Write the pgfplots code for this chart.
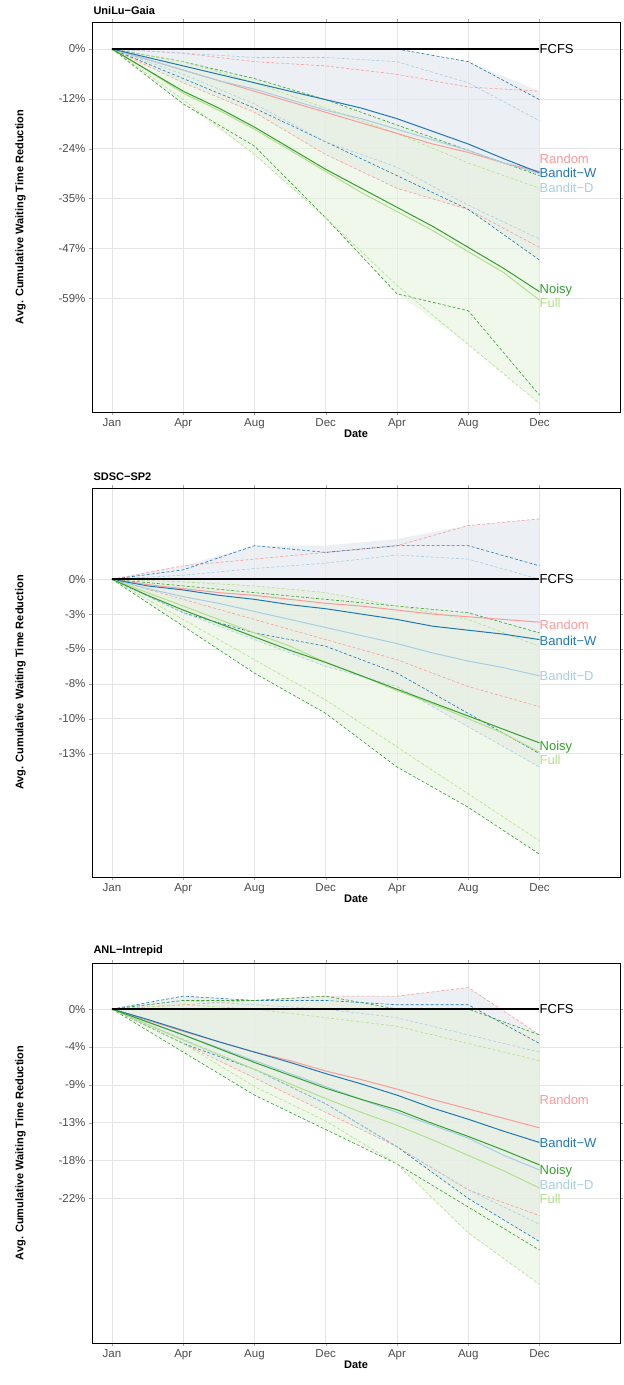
\documentclass[border=0pt]{standalone}
\usepackage{pgfplots}
\pgfplotsset{compat=1.18}
\usepackage{pgfplotstable}
\usepgfplotslibrary{fillbetween}
\usepackage{fontspec}
\setmainfont{Liberation Sans}
\definecolor{cR}{HTML}{FB9A99}
\definecolor{cW}{HTML}{1F78B4}
\definecolor{cD}{HTML}{A6CEE3}
\definecolor{cN}{HTML}{33A02C}
\definecolor{cF}{HTML}{B2DF8A}
\definecolor{fG}{HTML}{E4E8EE}
\definecolor{fN}{HTML}{E6F2DE}
\pgfplotstableread{
x R W D N F
0 0 0 0 0 0
0.5 -2.5 -2 -2.5 -5 -5
1 -5 -4 -5 -10 -10.5
1.5 -7.5 -6 -7.5 -14 -14.5
2 -10 -8 -9.5 -18.5 -19
2.5 -12.5 -10 -12 -23.5 -24
3 -15 -12 -14.5 -28.5 -29
3.5 -17.5 -14 -16.5 -33 -34
4 -20 -16.5 -19 -37.5 -38.5
4.5 -22.5 -19.5 -21.5 -42 -43
5 -24.5 -22.5 -24 -47 -48
5.5 -27 -26 -27 -52 -53
6 -29 -29.3 -29.5 -57.5 -59.5
}\mA
\pgfplotstableread{
x Ru Rl Wu Wl Du Dl Nu Nl Fu Fl Gu Gl Hu Hl
0 0 0 0 0 0 0 0 0 0 0 0 0 0 0
1 -1 -8 0 -7 -1 -6 -3 -13 -3 -12 0 -8 -3 -13
2 -3 -15 0 -14 -2 -13 -7 -23 -8 -25 0 -15 -7 -25
3 -4 -25 0 -22 -2 -22 -12 -40 -14 -40 0 -25 -12 -40
4 -6 -33 0 -30 -3 -28 -18 -58 -20 -56 0 -33 -18 -58
5 -9 -38 -3 -38 -8 -37 -24 -62 -27 -70 -3 -38 -24 -70
6 -10 -47 -12 -50 -17 -45 -30 -82 -33 -84 -10 -50 -30 -84
}\dA
\pgfplotstableread{
x R W D N F
0 0 0 0 0 0
0.5 -.4 -.5 -.7 -1.2 -1
1 -.7 -.8 -1.3 -2.3 -2
1.5 -1 -1.2 -1.8 -3.3 -3
2 -1.2 -1.5 -2.4 -4.3 -4
2.5 -1.5 -1.9 -3 -5.3 -5
3 -1.8 -2.2 -3.6 -6.2 -6.2
3.5 -2 -2.6 -4.2 -7.2 -7.2
4 -2.3 -3 -4.8 -8.2 -8.3
4.5 -2.6 -3.5 -5.5 -9.2 -9.3
5 -2.8 -3.8 -6.1 -10.2 -10.4
5.5 -3 -4.1 -6.6 -11.2 -11.5
6 -3.2 -4.5 -7.2 -12.2 -12.9
}\mB
\pgfplotstableread{
x Ru Rl Wu Wl Du Dl Nu Nl Fu Fl Gu Gl Hu Hl
0 0 0 0 0 0 0 0 0 0 0 0 0 0 0
1 1 -1.5 .7 -2.5 .3 -2.5 -.5 -3.5 -.2 -3 1 -2.5 0 -3.5
2 1.5 -3 2.5 -4 .8 -4.5 -1 -7 -.5 -6 2.5 -4.5 -.5 -7
3 2 -4.5 2 -5 1.2 -6.5 -1.5 -10 -1 -9 2.5 -6.5 -1 -10
4 2.5 -6 2.5 -7 1.8 -8 -2 -14 -2 -12.5 3 -8 -2 -14
5 4 -8 2.5 -10 1.5 -11 -2.5 -17 -3 -16 4 -11 -2.5 -17
6 4.5 -9.5 1 -13 0 -14 -4 -20.5 -5 -19.5 4.5 -14 -4 -20.5
}\dB
\pgfplotstableread{
x R W D N F
0 0 0 0 0 0
0.5 -1.3 -1.2 -1.5 -1.5 -1.8
1 -2.6 -2.5 -3 -3 -3.6
1.5 -3.8 -3.8 -4.5 -4.6 -5.3
2 -5 -5 -6 -6.2 -7
2.5 -6 -6.2 -7.5 -7.7 -8.7
3 -7.2 -7.5 -9 -9.2 -10.4
3.5 -8.2 -8.7 -10.5 -10.5 -12
4 -9.3 -10 -12 -11.7 -13.5
4.5 -10.5 -11.5 -13.5 -13.3 -15.2
5 -11.6 -12.8 -15 -14.8 -17
5.5 -12.7 -14.2 -17 -16.4 -18.8
6 -13.8 -15.5 -18.7 -18.1 -20.8
}\mC
\pgfplotstableread{
x Ru Rl Wu Wl Du Dl Nu Nl Fu Fl Gu Gl Hu Hl
0 0 0 0 0 0 0 0 0 0 0 0 0 0 0
1 .5 -4 1.5 -4 1 -3.5 1 -5 .5 -4 1.5 -4 1 -5
2 1 -8 1 -7 .5 -7 1 -10 0 -9 1 -8 1 -10
3 1.5 -12 1 -11 0 -11 1.5 -14 -1 -13 1.5 -12 1.5 -14
4 1.5 -16 .5 -16 -1 -16 0 -18 -2 -18 1.5 -16 0 -18
5 2.5 -21 .5 -22 -3 -21 0 -23 -4 -26 2.5 -22 0 -26
6 -3 -24 -4 -27 -5 -25 -3 -28 -6 -32 -3 -27 -3 -32
}\dC
\tikzset{
 dsh/.style={dash pattern=on 3pt off 2pt, line width=0.6pt},
 lab/.style={anchor=west, inner sep=0pt, font=\fontsize{13}{15}\selectfont},
}
\pgfplotsset{
 pan/.style={scale only axis, width=528pt, clip=false,
  xmin=-0.28, xmax=7.13, xtick={0,...,6},
  xticklabels={Jan,Apr,Aug,Dec,Apr,Aug,Dec},
  grid=major, grid style={gray!20, line width=0.6pt},
  axis line style={black, line width=0.5pt},
  tick style={gray!70}, tick align=outside, major tick length=3pt,
  ticklabel style={font=\fontsize{11.5}{13}\selectfont, text=black!70},
  xlabel={\textbf{Date}}, xlabel style={font=\fontsize{11}{13}\selectfont, yshift=6pt},
  ylabel={\textbf{Avg. Cumulative Waiting Time Reduction}},
  ylabel style={font=\fontsize{11}{13}\selectfont, yshift=26pt},
  title style={font=\bfseries\fontsize{11}{13}\selectfont, anchor=south west, at={(0,1)}, xshift=-2pt, yshift=-2pt},
  every axis plot/.append style={line width=1pt},
 },
}
\newcommand\panel[2]{%
 \addplot[draw=none, name path=gu] table[y=Gu]{#2};
 \addplot[draw=none, name path=gl] table[y=Gl]{#2};
 \addplot[fG, opacity=0.7] fill between[of=gu and gl];
 \addplot[draw=none, name path=hu] table[y=Hu]{#2};
 \addplot[draw=none, name path=hl] table[y=Hl]{#2};
 \addplot[fN, opacity=0.6] fill between[of=hu and hl];
 \addplot[cR,dsh] table[y=Ru]{#2}; \addplot[cR,dsh] table[y=Rl]{#2};
 \addplot[cW,dsh] table[y=Wu]{#2}; \addplot[cW,dsh] table[y=Wl]{#2};
 \addplot[cD,dsh] table[y=Du]{#2}; \addplot[cD,dsh] table[y=Dl]{#2};
 \addplot[cN,dsh] table[y=Nu]{#2}; \addplot[cN,dsh] table[y=Nl]{#2};
 \addplot[cF,dsh] table[y=Fu]{#2}; \addplot[cF,dsh] table[y=Fl]{#2};
 \addplot[cR] table[y=R]{#1};
 \addplot[cD] table[y=D]{#1};
 \addplot[cW] table[y=W]{#1};
 \addplot[cF] table[y=F]{#1};
 \addplot[cN] table[y=N]{#1};
 \addplot[black, line width=1.6pt] coordinates {(0,0) (6,0)};
}
\begin{document}
\begin{tikzpicture}
\path (0pt,0pt) rectangle (622pt,-1385pt);
\begin{axis}[pan, at={(92pt,-22pt)}, anchor=north west, height=390pt,
 title={UniLu−Gaia}, ymin=-86, ymax=6.4,
 ytick={0,-11.8,-23.6,-35.4,-47.2,-59},
 yticklabels={0\%,-12\%,-24\%,-35\%,-47\%,-59\%}]
\panel{\mA}{\dA}
\node[lab] at (axis cs:6,0) {FCFS};
\node[lab,cR] at (axis cs:6,-26) {Random};
\node[lab,cW] at (axis cs:6,-29.3) {Bandit−W};
\node[lab,cD] at (axis cs:6,-32.9) {Bandit−D};
\node[lab,cN] at (axis cs:6,-57.1) {Noisy};
\node[lab,cF] at (axis cs:6,-60.2) {Full};
\end{axis}
\begin{axis}[pan, at={(92pt,-488pt)}, anchor=north west, height=389pt,
 title={SDSC−SP2}, ymin=-22.2, ymax=6.8,
 ytick={0,-2.6,-5.2,-7.8,-10.4,-13},
 yticklabels={0\%,-3\%,-5\%,-8\%,-10\%,-13\%}]
\panel{\mB}{\dB}
\node[lab] at (axis cs:6,0) {FCFS};
\node[lab,cR] at (axis cs:6,-3.4) {Random};
\node[lab,cW] at (axis cs:6,-4.6) {Bandit−W};
\node[lab,cD] at (axis cs:6,-7.2) {Bandit−D};
\node[lab,cN] at (axis cs:6,-12.5) {Noisy};
\node[lab,cF] at (axis cs:6,-13.5) {Full};
\end{axis}
\begin{axis}[pan, at={(92pt,-963pt)}, anchor=north west, height=380pt,
 title={ANL−Intrepid}, ymin=-38.8, ymax=5.35,
 ytick={0,-4.4,-8.8,-13.2,-17.6,-22},
 yticklabels={0\%,-4\%,-9\%,-13\%,-18\%,-22\%}]
\panel{\mC}{\dC}
\node[lab] at (axis cs:6,0) {FCFS};
\node[lab,cR] at (axis cs:6,-10.6) {Random};
\node[lab,cW] at (axis cs:6,-15.6) {Bandit−W};
\node[lab,cN] at (axis cs:6,-18.8) {Noisy};
\node[lab,cD] at (axis cs:6,-20.4) {Bandit−D};
\node[lab,cF] at (axis cs:6,-22) {Full};
\end{axis}
\end{tikzpicture}
\end{document}
